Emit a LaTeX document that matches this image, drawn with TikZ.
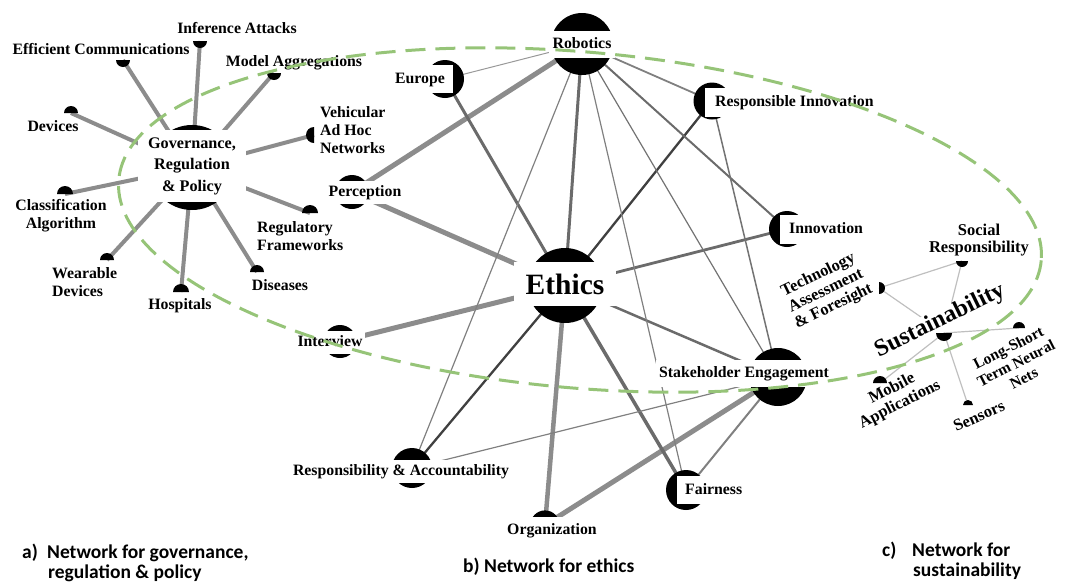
\documentclass[tikz,border=0pt]{standalone}
\usepackage{fontspec}
\setmainfont{Liberation Serif}
\newfontfamily\capfont{Carlito}
\definecolor{dashgreen}{RGB}{150,196,120}
\newcommand\hdisk[3]{\fill (#1) ++(#3:#2) arc[start angle=#3, delta angle=180, radius=#2] -- cycle;}
\begin{document}
\begin{tikzpicture}[x=1pt,y=-1pt,
  glab/.style={font=\bfseries\fontsize{15.8}{18.3}\selectfont, inner sep=0pt},
  glabone/.style={glab, text height=11pt, text depth=3pt},
  ebox/.style={font=\bfseries\fontsize{15.8}{18}\selectfont, fill=white, text height=11pt, text depth=3pt, inner xsep=3pt, inner ysep=0pt},
  slab/.style={font=\bfseries\fontsize{16.5}{17.5}\selectfont, inner sep=0pt, align=center},
  capt/.style={font=\capfont\bfseries\fontsize{19.5}{15}\selectfont, inner sep=0pt, anchor=base west},
  gedge/.style={draw=black!45, line width=4pt},
  ethick/.style={draw=black!45, line width=5pt},
  emed/.style={draw=black!58, line width=3pt},
  edark/.style={draw=black!75, line width=2.3pt},
  elight/.style={draw=black!50, line width=1.2pt},
  sedge/.style={draw=black!25, line width=1.2pt},
  halo/.style={draw=dashgreen, line width=3pt, dash pattern=on 20pt off 10pt}
]
\useasboundingbox (0,0) rectangle (1065,582);

% ---------- coordinates ----------
\coordinate (gov) at (192,167.5);
\coordinate (inf) at (200,41);
\coordinate (eff) at (123,60);
\coordinate (mod) at (274,73);
\coordinate (dev) at (71,113);
\coordinate (veh) at (314,135);
\coordinate (cla) at (65,194);
\coordinate (reg) at (310,213);
\coordinate (wea) at (107,260);
\coordinate (hos) at (181,292);
\coordinate (dis) at (257,272);

\coordinate (rob) at (582,44);
\coordinate (eur) at (445,79);
\coordinate (rin) at (712,101);
\coordinate (inn) at (787,229);
\coordinate (per) at (352,192);
\coordinate (eth) at (565,285.5);
\coordinate (int) at (340,341.5);
\coordinate (sta) at (778,377);
\coordinate (rac) at (412,468);
\coordinate (fai) at (686,490);
\coordinate (org) at (545,525);

\coordinate (sus) at (944,333);
\coordinate (soc) at (962,261);
\coordinate (tec) at (879,288);
\coordinate (lon) at (1019,328);
\coordinate (mob) at (880,383);
\coordinate (sen) at (968,405);

% ---------- edges: governance ----------
\foreach \t in {inf,eff,mod,dev,veh,cla,reg,wea,hos,dis}
  \draw[gedge] (gov) -- (\t);

% ---------- edges: ethics ----------
\draw[ethick] (rob) -- (per);
\draw[ethick] (per) -- (eth);
\draw[ethick] (int) -- (eth);
\draw[ethick, line width=4.5pt] (org) -- (eth);
\draw[ethick] (org) -- (sta);
\draw[emed, line width=3.5pt] (eth) -- (fai);
\draw[emed] (eur) -- (eth);
\draw[emed] (rob) -- (eth);
\draw[edark] (eth) -- (rin);
\draw[edark] (eth) -- (rac);
\draw[emed, line width=2.8pt] (eth) -- (inn);
\draw[emed, line width=2.5pt] (eth) -- (sta);
\draw[emed, line width=2pt] (rob) -- (inn);
\draw[elight, line width=1.8pt] (rob) -- (rin);
\draw[elight, draw=black!40, line width=1pt] (rob) -- (eur);
\draw[elight] (rob) -- (rac);
\draw[elight] (rob) -- (fai);
\draw[elight, draw=black!55] (rob) -- (sta);
\draw[elight, draw=black!55, line width=1.5pt] (rin) -- (sta);
\draw[elight] (sta) -- (rac);
\draw[elight, line width=2pt] (sta) -- (fai);

% ---------- edges: sustainability ----------
\draw[sedge] (sus) -- (soc);
\draw[sedge] (sus) -- (lon);
\draw[sedge] (sus) -- (mob);
\draw[sedge] (sus) -- (sen);
\draw[sedge] (tec) -- (soc);
\draw[sedge] (tec) -- (sus);

% ---------- node discs ----------
\fill (gov) circle[radius=42.5];
\hdisk{inf}{7}{0}
\hdisk{eff}{7}{0}
\hdisk{mod}{7}{0}
\hdisk{dev}{7}{180}
\hdisk{veh}{8}{90}
\hdisk{cla}{8}{180}
\hdisk{reg}{8}{180}
\hdisk{wea}{7}{180}
\hdisk{hos}{8}{180}
\hdisk{dis}{7}{180}

\fill (rob) circle[radius=31];
\fill (eur) circle[radius=19];
\fill (rin) circle[radius=18.5];
\fill (inn) circle[radius=18];
\fill (per) circle[radius=17];
\fill (eth) circle[radius=37.5];
\fill (int) circle[radius=16.5];
\fill (sta) circle[radius=29];
\fill (rac) circle[radius=20];
\fill (fai) circle[radius=20];
\fill (org) circle[radius=14.6];

% ---------- labels: governance ----------
\node[glab, fill=white, inner xsep=10pt, minimum height=72pt, align=center,
  font=\bfseries\fontsize{16.2}{21.5}\selectfont] (govL) at (192,166) {Governance,\\Regulation\\\& Policy};
\node[glabone] (infL) at (237,29) {Inference Attacks};
\node[glabone] (effL) at (101,50) {Efficient Communications};
\node[glabone] (modL) at (294,62) {Model Aggregations};
\node[glabone] (devL) at (53,127) {Devices};
\node[glab, anchor=west, align=left] (vehL) at (320,130) {Vehicular\\Ad Hoc\\Networks};
\node[glab, align=center] (claL) at (61,216) {Classification\\Algorithm};
\node[glab, anchor=west, align=left] (regL) at (257,236) {Regulatory\\Frameworks};
\node[glab, anchor=west, align=left] (weaL) at (52,282) {Wearable\\Devices};
\node[glabone] (hosL) at (180,305) {Hospitals};
\node[glabone] (disL) at (280,286) {Diseases};

% ---------- labels: ethics ----------
\node[ebox, inner xsep=4pt, minimum height=27pt] (robL) at (582,44) {Robotics};
\node[ebox, anchor=east, inner xsep=8pt, minimum height=28pt] (eurL) at (453,79) {Europe};
\node[ebox, anchor=west, inner xsep=10pt, minimum height=29pt] (rinL) at (705,102) {Responsible Innovation};
\node[ebox, anchor=west, inner xsep=9pt, minimum height=29pt] (innL) at (780,229) {Innovation};
\node[ebox, minimum height=23pt] (perL) at (365,192) {Perception};
\node[ebox, font=\bfseries\fontsize{29.5}{30}\selectfont, text height=20pt, text depth=0pt,
  inner xsep=12pt, minimum height=44pt] (ethL) at (565,284) {Ethics};
\node[ebox, minimum height=23pt] (intL) at (330,342) {Interview};
\node[ebox, minimum height=27pt] (staL) at (744,373.5) {Stakeholder Engagement};
\node[ebox, minimum height=23pt] (racL) at (401,471.5) {Responsibility \& Accountability};
\node[ebox, anchor=west, inner xsep=8pt, minimum height=28pt] (faiL) at (677,490) {Fairness};
\node[ebox, minimum height=26pt] (orgL) at (552,530) {Organization};

% ---------- labels: sustainability ----------
\node[font=\bfseries\fontsize{24}{25}\selectfont, fill=white, inner sep=1pt, rotate=26] (susL) at (940,321) {Sustainability};
\hdisk{sus}{8}{0}
\hdisk{soc}{6}{0}
\hdisk{tec}{6}{270}
\hdisk{lon}{6}{180}
\hdisk{mob}{7}{180}
\hdisk{sen}{5}{180}
\node[slab, rotate=26] (tecL) at (826,291) {Technology\\Assessment\\\& Foresight};
\node[slab] (socL) at (979,240) {Social\\Responsibility};
\node[slab, rotate=27, font=\bfseries\fontsize{15.5}{17}\selectfont] (lonL) at (1016,363) {Long-Short\\Term Neural\\Nets};
\node[slab, rotate=27] (mobL) at (896,397) {Mobile\\Applications};
\node[slab, rotate=24] (senL) at (979,416) {Sensors};

% ---------- dashed halo ----------
\draw[halo, rotate around={-5:(580,220)}] (580,220) ellipse[x radius=463, y radius=168];

% ---------- captions ----------
\node[capt] (ca) at (22,558) {a)};
\node[capt] (ca1) at (47,558) {Network for governance,};
\node[capt] (ca2) at (48,578) {regulation \& policy};
\node[capt] (cb) at (463,572) {b) Network for ethics};
\node[capt] (cc) at (882,556) {c)};
\node[capt] (cc1) at (912,556) {Network for};
\node[capt] (cc2) at (913,576) {sustainability};
\end{tikzpicture}
\end{document}
